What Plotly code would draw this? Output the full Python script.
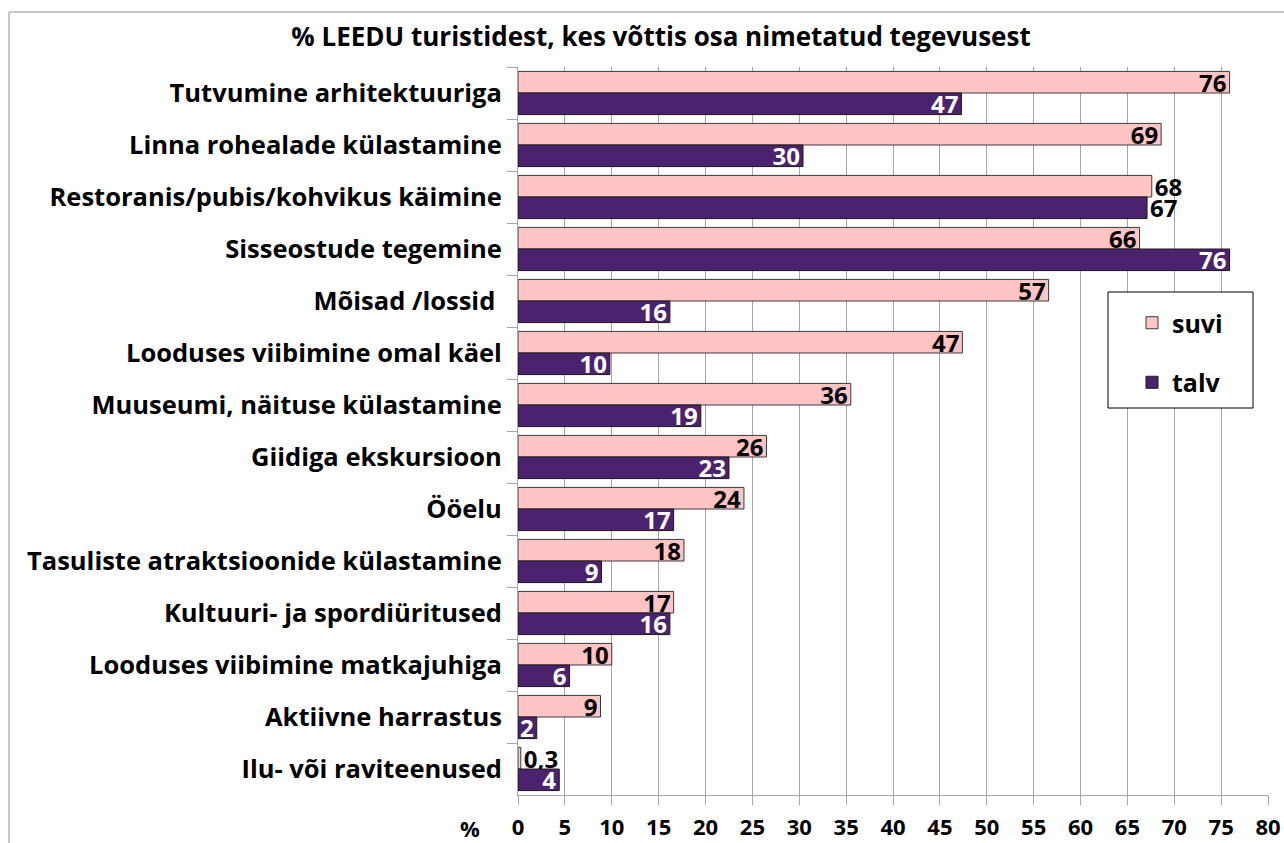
import plotly.graph_objects as go

categories = [
    "Tutvumine arhitektuuriga",
    "Linna rohealade külastamine",
    "Restoranis/pubis/kohvikus käimine",
    "Sisseostude tegemine",
    "Mõisad /lossid ",
    "Looduses viibimine omal käel",
    "Muuseumi, näituse külastamine",
    "Giidiga ekskursioon",
    "Ööelu",
    "Tasuliste atraktsioonide külastamine",
    "Kultuuri- ja spordiüritused",
    "Looduses viibimine matkajuhiga",
    "Aktiivne harrastus",
    "Ilu- või raviteenused",
]

suvi_values = [75.9, 68.6, 67.6, 66.3, 56.6, 47.4, 35.5, 26.5, 24.1, 17.7, 16.6, 10.0, 8.8, 0.3]
suvi_labels = ["76", "69", "68", "66", "57", "47", "36", "26", "24", "18", "17", "10", "9", "0,3"]
suvi_textpos = ["inside", "inside", "outside", "inside", "inside", "inside", "inside",
                "inside", "inside", "inside", "inside", "inside", "inside", "outside"]

talv_values = [47.3, 30.4, 67.1, 75.9, 16.2, 9.8, 19.5, 22.5, 16.6, 8.9, 16.2, 5.5, 2.0, 4.4]
talv_labels = ["47", "30", "67", "76", "16", "10", "19", "23", "17", "9", "16", "6", "2", "4"]
talv_textpos = ["inside", "inside", "outside", "inside", "inside", "inside", "inside",
                "inside", "inside", "inside", "inside", "inside", "inside", "inside"]

x_ticks = list(range(0, 81, 5))

FONT = "Open Sans"
W, H = 1284, 843             # figure size (page body margin removed below)
PL, PR, PT, PB = 518, 1268, 67, 795   # plot area in page pixels
L, R, T, B = PL, W - PR, PT, H - PB
pw, ph = PR - PL, PB - PT


def px(xp):
    return (xp - PL) / pw


def py(yp):
    return (PB - yp) / ph


LBL = 24
fig = go.Figure()
fig.add_trace(go.Bar(
    name="suvi", y=categories, x=suvi_values, orientation="h",
    text=suvi_labels, textposition=suvi_textpos, insidetextanchor="end", textangle=0,
    marker=dict(color="#FFC4C4", line=dict(color="#3A3A3A", width=1)),
    insidetextfont=dict(family=FONT, size=LBL, color="black", weight="bold"),
    outsidetextfont=dict(family=FONT, size=LBL, color="black", weight="bold"),
    cliponaxis=False, legendgroup="a", hoverinfo="skip",
))
fig.add_trace(go.Bar(
    name="talv", y=categories, x=talv_values, orientation="h",
    text=talv_labels, textposition=talv_textpos, insidetextanchor="end", textangle=0,
    marker=dict(color="#4B226E", line=dict(color="#1A1A1A", width=1)),
    insidetextfont=dict(family=FONT, size=LBL, color="white", weight="bold"),
    outsidetextfont=dict(family=FONT, size=LBL, color="black", weight="bold"),
    cliponaxis=False, legendgroup="b", hoverinfo="skip",
))

fig.update_layout(
    width=W, height=H,
    margin=dict(l=L, r=R, t=T, b=B, autoexpand=False),
    paper_bgcolor="white", plot_bgcolor="white",
    barmode="group", bargap=0.17, bargroupgap=0,
    uniformtext=dict(minsize=LBL, mode="show"),
    title=dict(
        text="% LEEDU turistidest, kes võttis osa nimetatud tegevusest",
        x=661 / W, xanchor="center", y=1 - 37 / H, yanchor="middle",
        font=dict(family=FONT, size=26, color="black", weight="bold"),
    ),
    legend=dict(
        x=px(1132), xanchor="left",
        y=py(300), yanchor="top",
        bgcolor="rgba(0,0,0,0)", borderwidth=0,
        font=dict(family=FONT, size=25, color="black", weight="bold"),
        traceorder="grouped", tracegroupgap=24,
    ),
    showlegend=True,
)

fig.update_xaxes(
    range=[0, 80], tickvals=x_ticks, ticktext=[str(v) for v in x_ticks],
    showgrid=True, gridcolor="#A6A6A6", gridwidth=1, automargin=False,
    showline=True, linecolor="#A6A6A6", linewidth=1,
    ticks="outside", ticklen=9, tickcolor="#A6A6A6",
    ticklabelstandoff=4, zeroline=False, ticklabeloverflow="allow",
    tickfont=dict(family=FONT, size=22, color="black", weight="bold"),
)
fig.update_yaxes(
    categoryorder="array", categoryarray=categories, autorange="reversed",
    showgrid=False, showline=True, linecolor="#A6A6A6", linewidth=1, automargin=False,
    ticks="outside", tickson="boundaries", ticklen=10, tickcolor="#A6A6A6",
    ticklabelstandoff=10,
    tickfont=dict(family=FONT, size=25.5, color="black", weight="bold"),
)

# "%" unit label left of the x tick labels
fig.add_annotation(
    text="%", xref="paper", yref="paper",
    x=px(470), y=py(828),
    xanchor="center", yanchor="middle", showarrow=False,
    font=dict(family=FONT, size=22, color="black", weight="bold"),
)

# legend frame
fig.add_shape(type="rect", xref="paper", yref="paper",
              x0=px(1108), x1=px(1253), y0=py(408), y1=py(292),
              fillcolor="white", line=dict(color="black", width=1), layer="above")

# outer chart border (top and left edges visible)
bx0 = px(9)
by1 = py(12)
fig.add_shape(type="line", xref="paper", yref="paper", x0=bx0, x1=px(W + 40),
              y0=by1, y1=by1, line=dict(color="#C8C8C8", width=2), layer="below")
fig.add_shape(type="line", xref="paper", yref="paper", x0=bx0, x1=bx0,
              y0=py(H + 40), y1=by1, line=dict(color="#C8C8C8", width=2), layer="below")

fig.write_html("out.html", config={"displayModeBar": False},
               post_script="document.body.style.margin='0';")
